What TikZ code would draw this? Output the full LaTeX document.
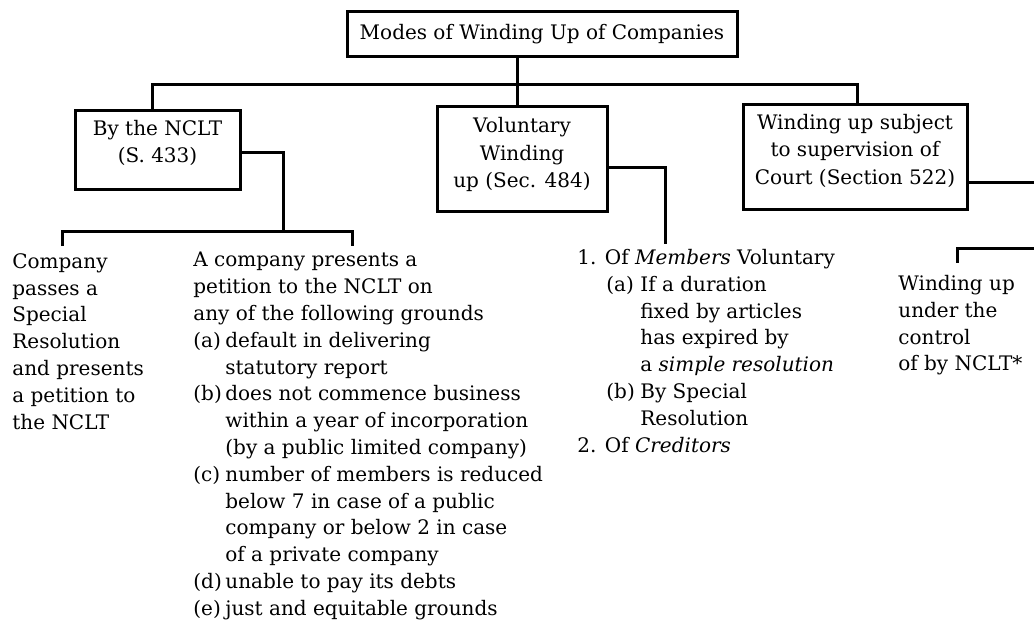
\documentclass[tikz,border=0pt]{standalone}
\usepackage{fontspec}
\setmainfont{DejaVu Serif}
\usetikzlibrary{positioning}
\usetikzlibrary{calc}
\newcommand{\ground}[1]{\makebox[16pt][l]{#1}}
\newcommand{\groundcont}{\hspace*{16pt}}
\newcommand{\memb}[1]{\hspace*{14.5pt}\makebox[17pt][l]{#1}}
\newcommand{\membcont}{\hspace*{31.5pt}}
\newcommand{\lift}[1]{\rule[-#1]{0pt}{0pt}}

\begin{document}
\begin{tikzpicture}[x=0.5pt,y=-0.5pt,
	modebox/.style={rectangle,draw=black,line width=1.5pt,align=center,inner sep=0pt,font=\fontsize{10}{13.75}\selectfont},
	textcol/.style={anchor=north west,align=left,inner sep=0pt,font=\fontsize{10}{13.4}\selectfont},
	link/.style={line width=1.5pt}]
	\useasboundingbox (0,0) rectangle (1034,626);

	\node[modebox,minimum width=195pt,minimum height=22.5pt] (modes) at (542,34.5) {Modes of Winding Up of Companies};
	\node[modebox,minimum width=82.5pt,minimum height=39.5pt] (nclt) at (157.5,150.5) {By the NCLT\\(S. 433)\lift{9pt}};
	\node[modebox,minimum width=85pt,minimum height=52pt] (vol) at (522,159) {Voluntary\\Winding\\up (Sec. 484)\lift{6.5pt}};
	\node[modebox,minimum width=112pt,minimum height=52pt] (court) at (855,157) {Winding up subject\\to supervision of\\Court (Section 522)\lift{8pt}};

	\node[textcol] (resolution) at (12,253) {Company\\passes a\\Special\\Resolution\\and presents\\a petition to\\the NCLT};
	\node[textcol] (petition) at (193,252) {A company presents a\\petition to the NCLT on\\any of the following grounds\\
		\ground{(a)}default in delivering\\\groundcont statutory report\\
		\ground{(b)}does not commence business\\\groundcont within a year of incorporation\\\groundcont (by a public limited company)\\
		\ground{(c)}number of members is reduced\\\groundcont below 7 in case of a public\\\groundcont company or below 2 in case\\\groundcont of a private company\\
		\ground{(d)}unable to pay its debts\\
		\ground{(e)}just and equitable grounds};
	\node[textcol] (voluntary) at (577,249) {1. Of \emph{Members} Voluntary\\
		\memb{(a)}If a duration\\\membcont fixed by articles\\\membcont has expired by\\\membcont a \emph{simple resolution}\\
		\memb{(b)}By Special\\\membcont Resolution\\
		2. Of \emph{Creditors}};
	\node[textcol] (control) at (898,275) {Winding up\\under the\\control\\of by NCLT*};

	% top level
	\coordinate (bus) at (517,85);
	\draw[link] (modes.south -| bus) -- (bus |- vol.north);
	\draw[link] ([xshift=-2.5pt]nclt.north) |- (bus) -| ([xshift=1pt]court.north);

	% by the NCLT
	\coordinate (ncltbus) at (283,231);
	\coordinate (resleft) at (62,246);
	\coordinate (petright) at (352,246);
	\draw[link] ([yshift=-1pt]nclt.east) -| (ncltbus);
	\draw[link] (resleft) |- (ncltbus) -| (petright);

	% voluntary
	\coordinate (volend) at (665,244);
	\draw[link] ([yshift=-4.5pt]vol.east) -| (volend);

	% court
	\coordinate (courtout) at (1040,183);
	\coordinate (ctrlin) at (1040,248);
	\coordinate (ctrlend) at (957,263);
	\draw[link] ([yshift=-13pt]court.east) -- (courtout);
	\draw[link] (ctrlin) -| (ctrlend);
\end{tikzpicture}
\end{document}
